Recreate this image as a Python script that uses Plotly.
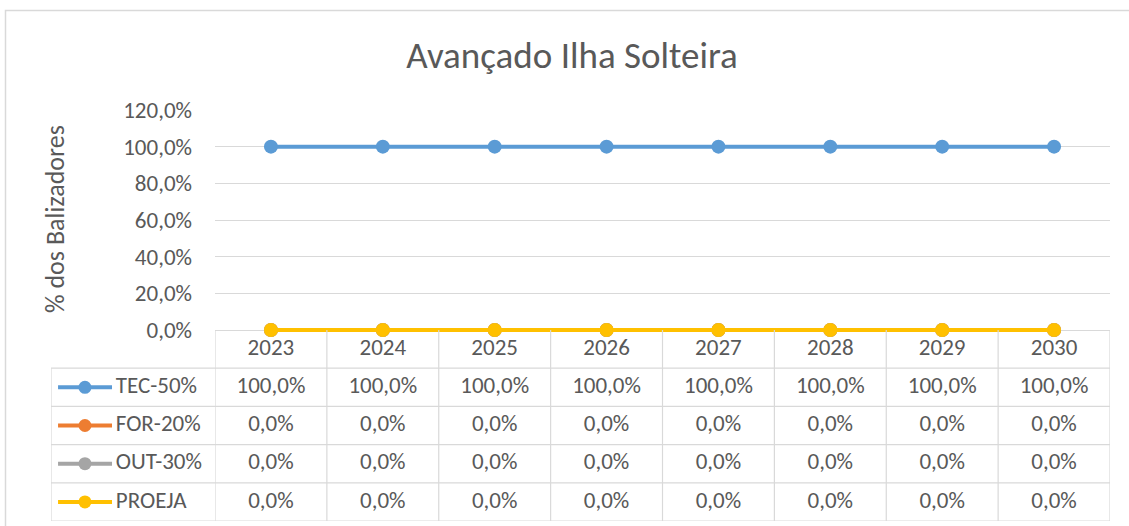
import plotly.graph_objects as go

W, H = 1129, 526

years = ["2023", "2024", "2025", "2026", "2027", "2028", "2029", "2030"]
series_names = ["TEC-50%", "FOR-20%", "OUT-30%", "PROEJA"]
tec_50 = [1.0, 1.0, 1.0, 1.0, 1.0, 1.0, 1.0, 1.0]
for_20 = [0.0, 0.0, 0.0, 0.0, 0.0, 0.0, 0.0, 0.0]
out_30 = [0.0, 0.0, 0.0, 0.0, 0.0, 0.0, 0.0, 0.0]
proeja = [0.0, 0.0, 0.0, 0.0, 0.0, 0.0, 0.0, 0.0]
y_ticks = [0.0, 0.2, 0.4, 0.6, 0.8, 1.0, 1.2]

series_values = [tec_50, for_20, out_30, proeja]
colors = ["#5B9BD5", "#ED7D31", "#A5A5A5", "#FFC000"]

FONT = "Carlito, Lato, sans-serif"
TXT = "#595959"
GRID = "#D9D9D9"
FS = 23

# main plot geometry (pixels)
Y0_PX, Y120_PX = 330, 110
PX_PER_UNIT = (Y0_PX - Y120_PX) / 1.2
Y_PAD = 0.03  # extra range below 0 so the zero-line series is not clipped


def px(x):
    return x / W


def py(y):
    return 1 - y / H


def fmt(v):
    return f"{v * 100:.1f}".replace(".", ",") + "%"


fig = go.Figure()

# main chart lines
for name, vals, col in zip(series_names, series_values, colors):
    fig.add_trace(go.Scatter(
        x=years, y=vals, mode="lines+markers", name=name,
        line=dict(color=col, width=4),
        marker=dict(color=col, size=14),
        xaxis="x", yaxis="y", showlegend=False, cliponaxis=False,
    ))

n = len(years)
idx = list(range(n))

# header row (years)
fig.add_trace(go.Scatter(
    x=idx, y=[0] * n, mode="text", text=years,
    textfont=dict(family=FONT, size=FS, color=TXT),
    xaxis="x2", yaxis="y2", showlegend=False, hoverinfo="skip",
))

# data cells
for r, vals in enumerate(series_values, start=1):
    fig.add_trace(go.Scatter(
        x=idx, y=[r] * n, mode="text", text=[fmt(v) for v in vals],
        textfont=dict(family=FONT, size=FS, color=TXT),
        xaxis="x2", yaxis="y2", showlegend=False, hoverinfo="skip",
    ))

# legend keys in the table
for r, (name, col) in enumerate(zip(series_names, colors), start=1):
    fig.add_trace(go.Scatter(
        x=[0.043, 0.372], y=[r, r], mode="lines",
        line=dict(color=col, width=4),
        xaxis="x3", yaxis="y2", showlegend=False, hoverinfo="skip",
    ))
    fig.add_trace(go.Scatter(
        x=[0.207], y=[r], mode="markers",
        marker=dict(color=col, size=13),
        xaxis="x3", yaxis="y2", showlegend=False, hoverinfo="skip",
    ))
    fig.add_trace(go.Scatter(
        x=[0.395], y=[r], mode="text", text=[name], textposition="middle right",
        textfont=dict(family=FONT, size=FS, color=TXT),
        xaxis="x3", yaxis="y2", showlegend=False, hoverinfo="skip",
    ))

shapes = []
# outer chart border
shapes.append(dict(type="rect", xref="paper", yref="paper",
                   x0=px(5.5), x1=px(1140), y0=py(10.5), y1=py(540),
                   line=dict(color=GRID, width=1.5), fillcolor="rgba(0,0,0,0)", layer="below"))
# table vertical lines
for i in range(n + 1):
    shapes.append(dict(type="line", xref="x2", yref="y2",
                       x0=i - 0.5, x1=i - 0.5, y0=-0.5, y1=len(series_names) + 0.5,
                       line=dict(color=GRID, width=1.2), layer="below"))
# table horizontal lines
for r in range(len(series_names) + 1):
    shapes.append(dict(type="line", xref="x2", yref="y2",
                       x0=-0.5, x1=n - 0.5, y0=r + 0.5, y1=r + 0.5,
                       line=dict(color=GRID, width=1.2), layer="below"))
    shapes.append(dict(type="line", xref="x3", yref="y2",
                       x0=0, x1=1, y0=r + 0.5, y1=r + 0.5,
                       line=dict(color=GRID, width=1.2), layer="below"))
# legend column left border
shapes.append(dict(type="line", xref="x3", yref="y2",
                   x0=0, x1=0, y0=0.5, y1=len(series_names) + 0.5,
                   line=dict(color=GRID, width=1.2), layer="below"))

fig.update_layout(
    width=W, height=H, autosize=False,
    margin=dict(l=0, r=0, t=0, b=0, pad=0, autoexpand=False),
    paper_bgcolor="white", plot_bgcolor="rgba(0,0,0,0)",
    separators=",.",
    font=dict(family=FONT, size=FS, color=TXT),
    title=dict(text="Avançado Ilha Solteira", x=px(572), y=py(55),
               xanchor="center", yanchor="middle",
               font=dict(family=FONT, size=37, color=TXT)),
    xaxis=dict(domain=[px(215), px(1110)], type="category", range=[-0.5, n - 0.5],
               showticklabels=False, showgrid=False, zeroline=False, showline=False,
               anchor="y"),
    yaxis=dict(domain=[py(Y0_PX + Y_PAD * PX_PER_UNIT), py(Y120_PX)],
               range=[-Y_PAD, 1.2], tickvals=y_ticks,
               tickformat=".1%", showgrid=True, gridcolor=GRID, gridwidth=1.2,
               zeroline=False, showline=False, ticks="", ticklabelstandoff=22,
               tickfont=dict(family=FONT, size=FS, color=TXT), anchor="x"),
    xaxis2=dict(domain=[px(215), px(1110)], range=[-0.5, n - 0.5], visible=False,
                anchor="y2"),
    yaxis2=dict(domain=[py(521), py(330)], range=[len(series_names) + 0.5, -0.5],
                visible=False, anchor="x2"),
    xaxis3=dict(domain=[px(51), px(215)], range=[0, 1], visible=False, anchor="y2"),
    shapes=shapes,
    annotations=[dict(text="% dos Balizadores", xref="paper", yref="paper",
                      x=px(55), y=py(219), textangle=-90, showarrow=False,
                      xanchor="center", yanchor="middle",
                      font=dict(family=FONT, size=26, color=TXT))],
)

fig.write_html("out.html", config={"displayModeBar": False},
               post_script="document.body.style.margin='0';document.body.style.overflow='hidden';")
